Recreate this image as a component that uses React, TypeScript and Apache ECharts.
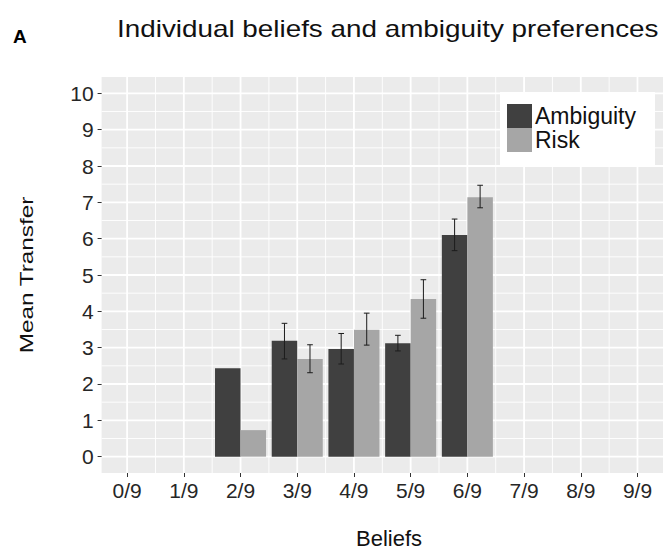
import React, { useEffect, useRef } from "react";
import * as echarts from "echarts";

// Belief categories on the x axis (k out of 9)
const beliefLabels = ["0/9", "1/9", "2/9", "3/9", "4/9", "5/9", "6/9", "7/9", "8/9", "9/9"];
const beliefIndex = [0, 1, 2, 3, 4, 5, 6, 7, 8, 9];

// Mean transfer per belief, with standard-error bounds (null = no observation / no bar)
const ambiguityMean = [null, null, 2.43, 3.19, 2.96, 3.12, 6.1, null, null, null];
const ambiguityLower = [null, null, null, 2.69, 2.55, 2.91, 5.67, null, null, null];
const ambiguityUpper = [null, null, null, 3.67, 3.39, 3.34, 6.54, null, null, null];

const riskMean = [null, null, 0.73, 2.69, 3.49, 4.34, 7.14, null, null, null];
const riskLower = [null, null, null, 2.31, 3.07, 3.81, 6.85, null, null, null];
const riskUpper = [null, null, null, 3.08, 3.95, 4.87, 7.47, null, null, null];

const yTicks = [0, 1, 2, 3, 4, 5, 6, 7, 8, 9, 10];

const FONT = "'Liberation Sans', Arial, Helvetica, sans-serif";
const DODGE = 0.9;
const WHISKER = 0.1;
const AMBIGUITY_COLOR = "#404040";
const RISK_COLOR = "#a6a6a6";

type Range = [number, number] | null;

function buildSeriesData(means: (number | null)[], lower: (number | null)[], upper: (number | null)[]) {
  const data: number[][] = [];
  const errs: Range[] = [];
  means.forEach((m, i) => {
    if (m === null) return;
    data.push([beliefIndex[i], m]);
    const lo = lower[i];
    const hi = upper[i];
    errs.push(lo !== null && hi !== null ? [lo, hi] : null);
  });
  return { data, errs };
}

function makeBarRenderer(side: number, color: string, errs: Range[]) {
  return (params: any, api: any) => {
    const x = api.value(0);
    const v = api.value(1);
    const half = DODGE / 2;
    const left = side < 0 ? x - half : x;
    const right = side < 0 ? x : x + half;
    const p0 = api.coord([left, v]);
    const p1 = api.coord([right, 0]);
    const children: any[] = [
      {
        type: "rect",
        shape: { x: p0[0], y: p0[1], width: p1[0] - p0[0], height: p1[1] - p0[1] },
        style: { fill: color },
      },
    ];
    const e = errs[params.dataIndex];
    if (e) {
      const cx = (left + right) / 2;
      const top = api.coord([cx, e[1]]);
      const bot = api.coord([cx, e[0]]);
      const w = api.size([WHISKER, 0])[0] / 2;
      const stroke = { stroke: "#1c1c1c", lineWidth: 1 };
      children.push(
        { type: "line", shape: { x1: top[0], y1: top[1], x2: bot[0], y2: bot[1] }, style: stroke },
        { type: "line", shape: { x1: top[0] - w, y1: top[1], x2: top[0] + w, y2: top[1] }, style: stroke },
        { type: "line", shape: { x1: bot[0] - w, y1: bot[1], x2: bot[0] + w, y2: bot[1] }, style: stroke }
      );
    }
    return { type: "group", children };
  };
}

// Panel grid lines: major at ticks, minor halfway between
function renderGridLines(params: any, api: any) {
  const cs = params.coordSys;
  const children: any[] = [];
  const hLine = (v: number, lw: number) => {
    const y = api.coord([0, v])[1];
    children.push({
      type: "line",
      shape: { x1: cs.x, y1: y, x2: cs.x + cs.width, y2: y },
      style: { stroke: "#ffffff", lineWidth: lw },
    });
  };
  const vLine = (v: number, lw: number) => {
    const x = api.coord([v, 0])[0];
    children.push({
      type: "line",
      shape: { x1: x, y1: cs.y, x2: x, y2: cs.y + cs.height },
      style: { stroke: "#ffffff", lineWidth: lw },
    });
  };
  for (let i = 0; i < yTicks.length - 1; i++) hLine((yTicks[i] + yTicks[i + 1]) / 2, 0.9);
  for (let i = 0; i < beliefIndex.length - 1; i++) vLine((beliefIndex[i] + beliefIndex[i + 1]) / 2, 0.9);
  yTicks.forEach((v) => hLine(v, 1.8));
  beliefIndex.forEach((v) => vLine(v, 1.8));
  return { type: "group", children };
}

export default function App() {
  const ref = useRef<HTMLDivElement>(null);

  useEffect(() => {
    if (!ref.current) return;
    const chart = echarts.init(ref.current, null, { renderer: "svg" });
    const amb = buildSeriesData(ambiguityMean, ambiguityLower, ambiguityUpper);
    const risk = buildSeriesData(riskMean, riskLower, riskUpper);

    const tickStyle = { color: "#333333", width: 1 };
    const labelStyle = { fontSize: 21, fontFamily: FONT, color: "#262626" };

    chart.setOption({
      animation: false,
      backgroundColor: "#ffffff",
      grid: {
        left: 101.6,
        top: 77,
        width: 573.8,
        height: 396,
        show: true,
        backgroundColor: "#ebebeb",
        borderWidth: 0,
        containLabel: false,
      },
      xAxis: {
        type: "value",
        min: -0.45,
        max: 9.45,
        axisLine: { show: false, onZero: false },
        splitLine: { show: false },
        axisTick: { show: true, customValues: beliefIndex, length: 4, lineStyle: tickStyle },
        axisLabel: {
          ...labelStyle,
          customValues: beliefIndex,
          formatter: (v: number) => beliefLabels[Math.round(v)],
          margin: 7,
        },
      },
      yAxis: {
        type: "value",
        min: -0.45,
        max: 10.45,
        axisLine: { show: false, onZero: false },
        splitLine: { show: false },
        axisTick: { show: true, customValues: yTicks, length: 4, lineStyle: tickStyle },
        axisLabel: {
          ...labelStyle,
          customValues: yTicks,
          formatter: (v: number) => String(Math.round(v)),
          margin: 8,
        },
      },
      legend: {
        data: ["Ambiguity", "Risk"],
        orient: "vertical",
        left: 500,
        top: 92,
        padding: [12, 19, 14, 7],
        itemWidth: 25,
        itemHeight: 24,
        itemGap: 0,
        icon: "rect",
        selectedMode: false,
        backgroundColor: "#ffffff",
        textStyle: { fontSize: 23, fontFamily: FONT, color: "#111111", padding: [0, 0, 0, -2] },
      },
      graphic: [
        {
          type: "text",
          x: 13,
          y: 36,
          style: {
            text: "A",
            font: `bold 19px ${FONT}`,
            fill: "#000000",
            align: "left",
            verticalAlign: "middle",
          },
        },
        {
          type: "text",
          x: 117,
          y: 28.5,
          scaleX: 1.16,
          style: {
            text: "Individual beliefs and ambiguity preferences",
            font: `24px ${FONT}`,
            fill: "#111111",
            align: "left",
            verticalAlign: "middle",
          },
        },
        {
          type: "text",
          x: 26.7,
          y: 275,
          rotation: Math.PI / 2,
          scaleX: 1.28,
          style: {
            text: "Mean Transfer",
            font: `19px ${FONT}`,
            fill: "#111111",
            align: "center",
            verticalAlign: "middle",
          },
        },
        {
          type: "text",
          x: 389,
          y: 538.5,
          style: {
            text: "Beliefs",
            font: `22px ${FONT}`,
            lineHeight: 20,
            fill: "#111111",
            align: "center",
            verticalAlign: "middle",
          },
        },
      ],
      series: [
        {
          type: "custom",
          name: "grid",
          z: 0,
          silent: true,
          renderItem: renderGridLines,
          data: [[0, 0]],
        },
        {
          type: "custom",
          name: "Ambiguity",
          z: 2,
          itemStyle: { color: AMBIGUITY_COLOR },
          renderItem: makeBarRenderer(-1, AMBIGUITY_COLOR, amb.errs),
          data: amb.data,
        },
        {
          type: "custom",
          name: "Risk",
          z: 2,
          itemStyle: { color: RISK_COLOR },
          renderItem: makeBarRenderer(1, RISK_COLOR, risk.errs),
          data: risk.data,
        },
      ],
    });

    return () => chart.dispose();
  }, []);

  return (
    <div
      ref={ref}
      style={{ position: "absolute", left: 0, top: 0, width: 663, height: 550 }}
    />
  );
}
